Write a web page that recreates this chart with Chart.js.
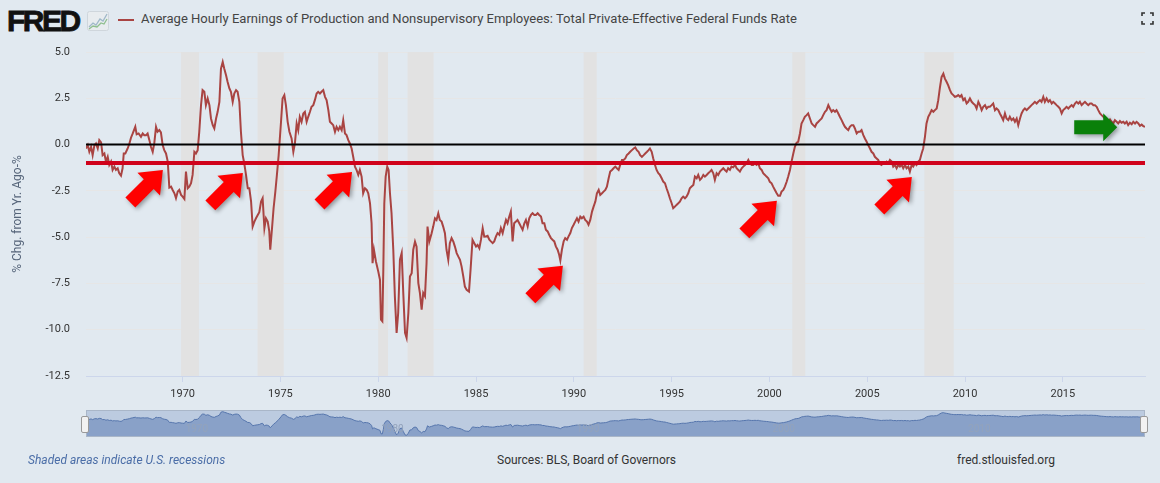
<!DOCTYPE html>
<html>
<head>
<meta charset="utf-8">
<script src="https://cdn.jsdelivr.net/npm/chart.js@4.4.0/dist/chart.umd.min.js"></script>
<style>
  body { margin: 0; width: 1160px; height: 483px; background: #e1e9f0; position: relative; overflow: hidden; font-family: Roboto, "Open Sans", sans-serif; }
  #main { position: absolute; left: 0; top: 0; }
  #nav { position: absolute; left: 86px; top: 410px; }
  .logo { position: absolute; left: 7px; top: 4px; font-family: "Liberation Sans", Arial, sans-serif; font-weight: bold; font-size: 30px; letter-spacing: -2.5px; color: #111; -webkit-text-stroke: 0.8px #111; }
  .legend-line { position: absolute; left: 118px; top: 19px; width: 16px; height: 2px; background: #a94442; }
  .title { position: absolute; left: 141px; top: 12px; font-size: 12px; color: #444; white-space: nowrap; transform-origin: left center; }
  .foot { position: absolute; top: 453px; font-size: 12px; color: #333; white-space: nowrap; }
  .handle { position: absolute; top: 416px; width: 6px; height: 15px; background: #f2f2f2; border: 1px solid #999; border-radius: 2px; }
</style>
</head>
<body>
<div class="logo">FRED</div>
<svg style="position:absolute;left:87px;top:11px" width="22" height="20">
  <rect x="0.5" y="0.5" width="21" height="19" rx="2" fill="#e8ecef" stroke="#cfd6dc"/>
  <polyline points="2,16 6,12 9,14 13,8 16,10 20,3" fill="none" stroke="#9fb8c9" stroke-width="1.3"/>
  <polyline points="2,18 6,15 10,16 14,12 17,13 20,8" fill="none" stroke="#8fbf8f" stroke-width="1.3"/>
</svg>
<div class="legend-line"></div>
<div class="title" id="title">Average Hourly Earnings of Production and Nonsupervisory Employees: Total Private-Effective Federal Funds Rate</div>
<svg style="position:absolute;left:1141px;top:12px" width="13" height="13">
  <path d="M1 4V1H4 M9 1H12V4 M12 9V12H9 M4 12H1V9" fill="none" stroke="#333" stroke-width="1.6"/>
</svg>
<canvas id="main" width="1160" height="400"></canvas>
<canvas id="nav" width="1059" height="27"></canvas>
<div class="handle" style="left:81px"></div>
<div class="handle" style="left:1140px"></div>
<div class="foot" style="left:28px; font-style:italic; color:#4a6da7">Shaded areas indicate U.S. recessions</div>
<div class="foot" style="left:497px">Sources: BLS, Board of Governors</div>
<div class="foot" style="left:957px">fred.stlouisfed.org</div>
<script>
// axis ranges and ticks
const xMin = 1965.06;
const xMax = 2019.2;
const xTickYears = [1970, 1975, 1980, 1985, 1990, 1995, 2000, 2005, 2010, 2015];
const navTickYears = [1970, 1980, 1990, 2000, 2010];
const yTicks = [-12.5, -10, -7.5, -5, -2.5, 0, 2.5, 5];

// NBER recessions (decimal years)
const recessionStart = [1969.92, 1973.83, 1980.0, 1981.5, 1990.5, 2001.17, 2007.92];
const recessionEnd = [1970.83, 1975.17, 1980.5, 1982.83, 1991.17, 2001.83, 2009.42];

// reference lines
const zeroLine = 0;
const thresholdLine = -1;

// series: AHE growth minus fed funds rate, % (decimal year / value)
const years = [
1965.06,1965.15,1965.23,1965.32,1965.40,1965.49,1965.57,1965.66,1965.74,1965.83,1965.91,1966.00,1966.08,1966.17,1966.25,1966.34,1966.42,1966.51,1966.59,1966.68,1966.76,1966.85,1966.93,1966.99,1967.07,1967.19,1967.28,1967.36,1967.45,1967.58,1967.65,1967.75,1967.87,1967.96,1968.04,1968.13,1968.21,1968.30,1968.38,1968.47,1968.55,1968.64,1968.72,1968.81,1968.89,1968.98,1969.06,1969.15,1969.24,1969.32,1969.41,1969.49,1969.58,1969.66,1969.75,1969.83,1969.92,1970.00,1970.09,1970.17,1970.26,1970.34,1970.43,1970.51,1970.60,1970.68,1970.77,1970.85,1970.94,1971.02,1971.11,1971.19,1971.28,1971.37,1971.45,1971.54,1971.62,1971.71,1971.79,1971.88,1971.96,1972.05,1972.13,1972.22,1972.30,1972.39,1972.47,1972.56,1972.64,1972.73,1972.81,1972.90,1972.98,1973.07,1973.15,1973.24,1973.33,1973.41,1973.50,1973.58,1973.67,1973.75,1973.84,1973.92,1974.01,1974.09,1974.18,1974.26,1974.35,1974.43,1974.48,1974.57,1974.65,1974.74,1974.82,1974.91,1975.03,1975.11,1975.20,1975.28,1975.37,1975.46,
1975.57,1975.66,1975.74,1975.83,1975.91,1975.99,1976.08,1976.17,1976.25,1976.34,1976.42,1976.51,1976.59,1976.68,1976.76,1976.85,1976.93,1977.02,1977.10,1977.19,1977.28,1977.36,1977.45,1977.53,1977.62,1977.70,1977.79,1977.87,1977.96,1978.04,1978.13,1978.21,1978.30,1978.38,1978.47,1978.55,1978.64,1978.72,1978.81,1978.89,1978.98,1979.06,1979.15,1979.23,1979.32,1979.41,1979.49,1979.58,1979.66,1979.71,1979.78,1979.88,1980.00,1980.09,1980.14,1980.21,1980.26,1980.31,1980.38,1980.46,1980.53,1980.60,1980.68,1980.77,1980.85,1980.94,1981.02,1981.11,1981.20,1981.28,1981.37,1981.45,1981.54,1981.62,1981.71,1981.79,1981.88,1981.96,1982.05,1982.13,1982.22,1982.30,1982.39,1982.47,1982.52,1982.61,1982.73,1982.81,1982.90,1982.98,1983.07,1983.15,1983.24,1983.32,1983.41,1983.49,1983.58,1983.66,1983.75,1983.84,1983.92,1984.01,1984.09,1984.18,1984.26,1984.35,1984.43,1984.52,1984.64,1984.72,1984.82,1984.91,1985.00,1985.08,1985.17,1985.25,1985.34,1985.42,
1985.51,1985.59,1985.68,1985.76,1985.85,1985.93,1986.02,1986.10,1986.19,1986.27,1986.36,1986.44,1986.53,1986.61,1986.70,1986.78,1986.87,1986.95,1987.04,1987.12,1987.21,1987.29,1987.38,1987.47,1987.55,1987.64,1987.72,1987.81,1987.89,1987.98,1988.06,1988.15,1988.23,1988.32,1988.40,1988.49,1988.57,1988.66,1988.74,1988.83,1988.91,1989.00,1989.08,1989.17,1989.25,1989.31,1989.39,1989.48,1989.56,1989.65,1989.73,1989.82,1989.90,1989.99,1990.07,1990.16,1990.24,1990.33,1990.41,1990.50,1990.58,1990.67,1990.75,1990.84,1990.93,1991.01,1991.10,1991.18,1991.27,1991.35,1991.44,1991.52,1991.61,1991.69,1991.78,1991.86,1991.95,1992.03,1992.12,1992.20,1992.29,1992.37,1992.46,1992.54,1992.63,1992.71,1992.80,1992.88,1992.97,1993.06,1993.14,1993.22,1993.31,1993.39,1993.48,1993.57,1993.65,1993.74,1993.82,1993.89,1993.98,1994.06,1994.15,1994.23,1994.32,1994.40,1994.49,1994.57,1994.66,1994.74,1994.83,1994.91,1995.00,1995.08,1995.17,1995.25,1995.34,1995.42,1995.51,1995.59,1995.68,1995.76,1995.85,1995.93,1996.02,1996.11,1996.19,1996.28,1996.36,
1996.45,1996.53,1996.62,1996.70,1996.79,1996.87,1996.96,1997.04,1997.13,1997.21,1997.30,1997.38,1997.47,1997.55,1997.64,1997.72,1997.81,1997.89,1997.98,1998.06,1998.15,1998.24,1998.32,1998.41,1998.49,1998.58,1998.66,1998.75,1998.83,1998.92,1999.00,1999.09,1999.17,1999.26,1999.34,1999.43,1999.51,1999.60,1999.68,1999.77,1999.85,1999.94,2000.02,2000.11,2000.19,2000.28,2000.37,2000.45,2000.54,2000.62,2000.71,2000.79,2000.88,2000.96,2001.05,2001.13,2001.22,2001.30,2001.39,2001.47,2001.56,2001.64,2001.73,2001.81,2001.90,2001.98,2002.07,2002.16,2002.24,2002.33,2002.41,2002.50,2002.58,2002.67,2002.75,2002.84,2002.92,2003.01,2003.09,2003.18,2003.26,2003.35,2003.43,2003.52,2003.60,2003.69,2003.77,2003.86,2003.94,2004.03,2004.11,2004.20,2004.29,2004.37,2004.46,2004.54,2004.63,2004.71,2004.80,2004.88,2004.97,2005.05,2005.14,2005.22,2005.31,2005.39,2005.48,2005.56,2005.65,2005.73,2005.82,2005.91,2005.99,2006.08,2006.16,2006.25,2006.33,2006.42,2006.50,2006.59,2006.67,2006.76,2006.84,2006.93,2007.01,2007.10,2007.18,2007.27,2007.35,2007.44,2007.52,2007.61,
2007.69,2007.78,2007.86,2007.95,2008.03,2008.12,2008.21,2008.29,2008.38,2008.46,2008.55,2008.63,2008.72,2008.80,2008.89,2008.97,2009.06,2009.14,2009.23,2009.31,2009.40,2009.48,2009.57,2009.65,2009.74,2009.82,2009.91,2009.99,2010.08,2010.16,2010.25,2010.34,2010.42,2010.51,2010.59,2010.68,2010.76,2010.85,2010.93,2011.02,2011.10,2011.19,2011.27,2011.36,2011.44,2011.53,2011.61,2011.70,2011.78,2011.87,2011.95,2012.04,2012.12,2012.21,2012.29,2012.38,2012.47,2012.55,2012.64,2012.72,2012.81,2012.89,2012.98,2013.06,2013.15,2013.23,2013.32,2013.40,2013.49,2013.57,2013.66,2013.74,2013.83,2013.91,2014.00,2014.08,2014.17,2014.26,2014.34,2014.43,2014.51,2014.60,2014.68,2014.77,2014.85,2014.94,2015.02,2015.11,2015.19,2015.28,2015.36,2015.45,2015.53,2015.62,2015.70,2015.79,2015.87,2015.96,2016.04,2016.13,2016.21,2016.30,2016.39,2016.47,2016.56,2016.64,2016.73,2016.81,2016.90,2016.98,2017.07,2017.15,2017.24,2017.32,2017.41,2017.49,2017.58,2017.66,2017.75,2017.83,2017.92,2018.00,2018.09,2018.17,2018.26,2018.34,2018.43,2018.52,2018.60,2018.69,2018.77,2018.86,2018.94,2019.03,2019.11,2019.20
];
const values = [
-0.21,-0.03,-0.39,-0.12,-0.57,-0.03,0.06,-0.21,0.24,0.12,-0.57,-0.48,-0.92,-0.66,-1.10,-0.92,-1.37,-1.19,-1.37,-1.28,-1.55,-1.68,-1.28,-0.48,-0.48,-0.21,0.06,0.37,0.60,0.96,0.55,0.60,0.42,0.60,0.51,0.51,0.60,0.24,-0.12,-0.39,0.06,0.96,0.69,0.78,0.66,-0.03,-0.30,-0.48,-0.92,-2.32,-2.27,-2.45,-2.63,-2.90,-2.54,-2.45,-2.72,-2.81,-2.94,-1.46,-2.36,-2.27,-2.09,-1.64,-0.39,-0.48,-0.30,0.69,2.13,2.94,2.85,2.13,2.49,2.13,1.41,1.05,0.87,1.41,1.77,2.31,4.10,4.46,4.10,3.74,3.38,3.03,2.85,2.31,2.76,2.94,2.85,2.31,0.69,-0.57,-1.01,-1.64,-2.36,-2.36,-3.08,-4.43,-4.16,-3.98,-3.80,-3.65,-3.08,-2.90,-4.52,-3.98,-4.16,-4.69,-5.68,-4.52,-3.44,-2.54,-1.64,-0.57,1.23,2.49,2.67,2.13,1.23,0.69,
0.33,-0.39,0.06,1.14,0.78,1.50,1.23,1.68,1.77,1.23,1.50,1.77,2.04,2.13,2.40,2.76,2.85,2.76,2.85,2.94,2.58,2.40,1.86,1.23,1.14,1.05,0.69,0.96,0.78,0.96,0.78,1.32,0.60,0.51,0.24,0.06,-0.21,-0.66,-1.19,-1.37,-1.64,-1.37,-1.73,-2.63,-2.36,-2.45,-2.63,-3.18,-4.25,-6.41,-5.68,-6.30,-6.85,-7.31,-9.46,-9.55,-6.76,-3.18,-1.73,-1.19,-1.37,-2.63,-3.71,-5.68,-8.19,-10.17,-9.10,-6.22,-5.86,-8.01,-10.17,-10.44,-9.10,-7.13,-6.95,-5.68,-5.24,-5.51,-7.48,-8.01,-8.91,-8.01,-8.19,-6.41,-4.43,-5.24,-4.79,-4.43,-3.98,-4.07,-3.71,-4.07,-4.16,-4.43,-4.79,-5.68,-6.22,-5.33,-5.05,-5.24,-5.51,-5.86,-6.04,-6.22,-6.58,-7.13,-7.67,-7.85,-7.94,-6.76,-5.15,-5.33,-5.51,-5.42,-5.60,-5.15,-4.52,-4.97,
-4.96,-4.93,-5.14,-5.23,-5.32,-5.23,-4.96,-4.78,-4.87,-4.51,-4.78,-4.42,-4.07,-4.25,-3.89,-3.62,-5.23,-4.25,-4.16,-4.07,-4.25,-4.42,-4.60,-4.25,-4.07,-4.42,-3.98,-3.80,-3.71,-3.80,-3.80,-3.71,-3.80,-3.89,-4.25,-4.25,-4.60,-4.69,-4.87,-5.05,-5.14,-5.23,-5.50,-5.68,-5.95,-6.26,-5.68,-5.23,-5.05,-5.14,-4.96,-4.78,-4.51,-4.33,-4.16,-3.98,-4.16,-3.89,-3.98,-3.89,-4.07,-4.16,-4.33,-4.07,-3.62,-3.35,-3.08,-2.63,-2.45,-2.72,-2.63,-2.54,-2.45,-2.27,-1.82,-1.46,-1.37,-1.28,-1.19,-1.28,-1.37,-1.10,-0.83,-0.83,-0.75,-0.57,-0.48,-0.39,-0.30,-0.21,-0.15,-0.30,-0.39,-0.57,-0.66,-0.57,-0.48,-0.39,-0.30,-0.21,-0.39,-0.75,-1.10,-1.37,-1.55,-1.64,-1.82,-2.00,-2.09,-2.36,-2.63,-2.90,-3.17,-3.44,-3.35,-3.26,-3.17,-3.08,-2.90,-2.81,-2.90,-2.81,-2.63,-2.36,-2.27,-2.18,-1.73,-1.82,-1.64,
-1.91,-1.82,-1.64,-1.73,-1.64,-1.55,-1.46,-1.37,-1.55,-1.91,-1.55,-1.64,-1.46,-1.37,-1.28,-1.37,-1.46,-1.28,-1.37,-1.19,-1.23,-1.10,-1.28,-1.37,-1.46,-1.28,-1.19,-1.10,-1.01,-0.83,-1.01,-1.10,-1.10,-1.01,-1.10,-1.01,-1.28,-1.37,-1.55,-1.64,-1.73,-1.82,-2.01,-2.09,-2.27,-2.45,-2.63,-2.77,-2.77,-2.54,-2.45,-2.27,-2.01,-1.73,-1.37,-0.92,-0.48,-0.12,0.10,0.15,0.60,1.14,1.32,1.50,1.59,1.68,1.41,1.14,1.05,0.96,1.14,1.23,1.32,1.41,1.59,1.77,1.86,2.13,1.95,1.77,1.86,1.77,1.86,1.68,1.50,1.32,1.14,0.96,0.87,0.78,0.96,1.05,1.05,0.87,0.60,0.69,0.69,0.78,0.51,0.33,0.15,-0.03,-0.21,-0.39,-0.48,-0.66,-0.75,-0.83,-1.05,-1.10,-0.98,-1.01,-0.92,-1.01,-0.83,-0.92,-1.19,-1.10,-1.28,-1.10,-1.19,-1.10,-1.28,-1.10,-1.28,-1.19,-1.46,-1.10,-1.19,-1.01,-1.10,-0.92,
-0.83,-0.48,-0.21,0.42,1.14,1.50,1.68,1.86,1.77,1.86,1.95,2.40,3.11,3.65,3.83,3.56,3.38,3.20,2.94,2.76,2.67,2.58,2.61,2.67,2.58,2.67,2.40,2.49,2.22,2.31,2.49,2.31,2.22,2.13,1.95,2.31,2.13,1.86,2.04,2.13,1.95,2.04,2.04,2.13,2.22,1.86,1.95,1.86,1.68,1.50,1.32,1.68,1.41,1.32,1.50,1.32,1.41,1.23,1.41,1.05,1.41,1.68,1.86,1.95,1.86,1.95,2.04,2.13,2.22,2.31,2.22,2.31,2.40,2.31,2.58,2.31,2.49,2.31,2.40,2.22,2.31,2.22,2.13,2.04,1.95,1.68,1.86,1.95,2.04,1.95,2.04,2.13,2.04,2.22,2.31,2.22,2.31,2.13,2.22,2.31,2.22,2.13,2.22,2.22,2.13,2.13,2.04,1.86,1.68,1.59,1.50,1.41,1.32,1.23,1.36,1.23,1.14,1.32,1.23,1.14,1.27,1.18,1.23,1.14,1.23,1.05,1.18,1.10,1.23,1.14,1.23,1.14,1.01,1.08,1.00,0.96
];

// annotation arrows: tip position in data units
const redArrowTipYears = [1968.99, 1973.08, 1978.66, 1989.44, 2000.38, 2007.28];
const redArrowTipValues = [-1.37, -1.53, -1.48, -6.54, -3.04, -1.75];
const greenArrowTip = { year: 2017.78, value: 0.94 };

const points = years.map((x, i) => ({ x: x, y: values[i] }));

// fit title width to the original header
const title = document.getElementById("title");
title.style.transform = "scaleX(" + (656 / title.offsetWidth) + ")";

function drawArrow(ctx, tipX, tipY, angle, len, headLen, shaftHalf, headHalf, color) {
  ctx.save();
  ctx.translate(tipX, tipY);
  ctx.rotate(angle);
  ctx.shadowColor = "rgba(0,0,0,0.35)";
  ctx.shadowBlur = 4;
  ctx.shadowOffsetX = 2;
  ctx.shadowOffsetY = 2;
  ctx.fillStyle = color;
  ctx.beginPath();
  ctx.moveTo(0, 0);
  ctx.lineTo(-headLen, -headHalf);
  ctx.lineTo(-headLen, -shaftHalf);
  ctx.lineTo(-len, -shaftHalf);
  ctx.lineTo(-len, shaftHalf);
  ctx.lineTo(-headLen, shaftHalf);
  ctx.lineTo(-headLen, headHalf);
  ctx.closePath();
  ctx.fill();
  ctx.restore();
}

const recessionShading = {
  id: "recessionShading",
  beforeDatasetsDraw(chart) {
    const { ctx, chartArea, scales } = chart;
    ctx.save();
    ctx.fillStyle = "#e2e2e2";
    for (let i = 0; i < recessionStart.length; i++) {
      const x0 = scales.x.getPixelForValue(recessionStart[i]);
      const x1 = scales.x.getPixelForValue(recessionEnd[i]);
      ctx.fillRect(x0, chartArea.top, x1 - x0, chartArea.bottom - chartArea.top);
    }
    ctx.restore();
  }
};

const arrows = {
  id: "arrows",
  afterDatasetsDraw(chart) {
    const { ctx, scales } = chart;
    for (let i = 0; i < redArrowTipYears.length; i++) {
      const px = scales.x.getPixelForValue(redArrowTipYears[i]);
      const py = scales.y.getPixelForValue(redArrowTipValues[i]);
      drawArrow(ctx, px, py, -Math.PI / 4, 46, 20, 7, 16, "#ff0000");
    }
    const gx = scales.x.getPixelForValue(greenArrowTip.year);
    const gy = scales.y.getPixelForValue(greenArrowTip.value);
    drawArrow(ctx, gx, gy, 0, 43, 14, 7, 14, "#0a800a");
  }
};

const tickFont = { family: "Roboto", size: 11 };

new Chart(document.getElementById("main"), {
  type: "line",
  data: {
    datasets: [
      { data: points, borderColor: "#a94442", borderWidth: 2, pointRadius: 0, tension: 0, order: 3 },
      { data: [{ x: xMin, y: zeroLine }, { x: xMax, y: zeroLine }], borderColor: "#000000", borderWidth: 2, pointRadius: 0, order: 2 },
      { data: [{ x: xMin, y: thresholdLine }, { x: xMax, y: thresholdLine }], borderColor: "#d0021b", borderWidth: 4, pointRadius: 0, order: 1 }
    ]
  },
  options: {
    responsive: false,
    animation: false,
    events: [],
    layout: { padding: { top: 52, right: 15, left: 0, bottom: 0 } },
    plugins: { legend: { display: false }, tooltip: { enabled: false } },
    scales: {
      x: {
        type: "linear",
        min: xMin,
        max: xMax,
        afterBuildTicks: s => { s.ticks = xTickYears.map(v => ({ value: v })); },
        afterFit: s => { s.height = 24; },
        grid: { drawOnChartArea: false, color: "#ccd6eb", tickLength: 6 },
        border: { color: "#ccd6eb" },
        ticks: { font: tickFont, color: "#333", padding: 6, maxRotation: 0, callback: v => String(v) }
      },
      y: {
        min: -12.5,
        max: 5,
        afterBuildTicks: s => { s.ticks = yTicks.map(v => ({ value: v })); },
        afterFit: s => { s.width = 86; },
        grid: { color: "#e6e6e6", drawTicks: false },
        border: { display: false },
        ticks: { font: tickFont, color: "#333", padding: 16, callback: v => v.toFixed(1) },
        title: { display: true, text: "% Chg. from Yr. Ago-%", font: { family: "Roboto", size: 12 }, color: "#56657a", padding: { top: 11, bottom: 0 } }
      }
    }
  },
  plugins: [recessionShading, arrows]
});

// navigator strip under the chart
const navBackground = {
  id: "navBackground",
  beforeDraw(chart) {
    const { ctx, width, height } = chart;
    ctx.save();
    ctx.fillStyle = "#bccbe0";
    ctx.fillRect(0, 0, width, height);
    ctx.restore();
  },
  afterDraw(chart) {
    const { ctx, scales, height } = chart;
    ctx.save();
    ctx.font = "10px Roboto";
    ctx.fillStyle = "#93a3bb";
    ctx.textBaseline = "middle";
    navTickYears.forEach(y => {
      ctx.fillText(String(y), scales.x.getPixelForValue(y) + 3, height / 2 + 6);
    });
    ctx.strokeStyle = "#a9b6c8";
    ctx.lineWidth = 1;
    ctx.strokeRect(0.5, 0.5, chart.width - 1, height - 1);
    ctx.restore();
  }
};

new Chart(document.getElementById("nav"), {
  type: "line",
  data: {
    datasets: [{ data: points, borderColor: "#5676ad", borderWidth: 1, backgroundColor: "#89a1c8", fill: "start", pointRadius: 0 }]
  },
  options: {
    responsive: false,
    animation: false,
    events: [],
    layout: { padding: 0 },
    plugins: { legend: { display: false }, tooltip: { enabled: false } },
    scales: {
      x: { type: "linear", display: false, min: xMin, max: xMax },
      y: { display: false, min: -11.5, max: 5.5 }
    }
  },
  plugins: [navBackground]
});
</script>
</body>
</html>
